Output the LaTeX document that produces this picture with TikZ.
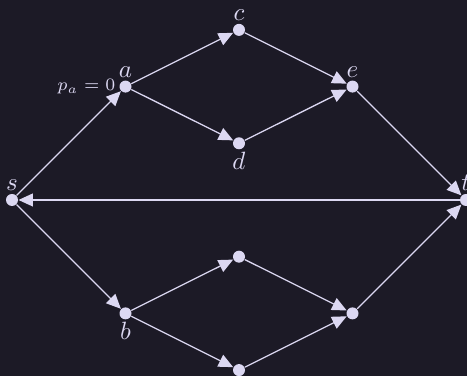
\documentclass[tikz,border=0pt]{standalone}
\usepackage{xcolor}
\usepackage{tikz}
\usetikzlibrary{positioning,arrows.meta}

\definecolor{bgdark}{HTML}{1C1A26}
\definecolor{lavender}{HTML}{DCD8F2}

\begin{document}
\begin{tikzpicture}[x=45.4pt, y=22.68pt]
    % Styles
    \tikzstyle{vertex} = [circle, fill=lavender, inner sep=0pt, minimum size=4.8pt,
                          label distance=1.6pt, font=\fontsize{11}{13}\selectfont]
    \tikzstyle{arrow} = [draw=lavender, line width=0.5pt, -{Triangle[length=5.8pt,width=5.2pt]}]

    % Background and frame
    \fill[bgdark] (-0.1057,-3.104) rectangle (4.0088,3.527);
    \useasboundingbox (-0.1057,-3.104) rectangle (4.0088,3.527);

    \begin{scope}[every label/.style={text=lavender, inner sep=0.8pt}]
    % Nodes, upper half
    \node (s) [vertex, label=above:$s$] at (0,0) {};
    \node (a) [vertex, label=above:$a$,
               label={[font=\fontsize{7.4}{9}\selectfont, label distance=0.5pt]left:$p_a = 0$}] at (1,2) {};
    \node (c) [vertex, label=above:$c$] at (2,3) {};
    \node (d) [vertex, label=below:$d$] at (2,1) {};
    \node (e) [vertex, label=above:$e$] at (3,2) {};
    \node (t) [vertex, label=above:$t$] at (4,0) {};

    % Nodes, lower half
    \node (b) [vertex, label=below:$b$] at (1,-2) {};
    \node (cl) [vertex] at (2,-1) {};
    \node (dl) [vertex] at (2,-3) {};
    \node (el) [vertex] at (3,-2) {};
    \end{scope}

    % Arrows
    \draw [arrow] (s) -- (a);
    \draw [arrow] (a) -- (c);
    \draw [arrow] (a) -- (d);
    \draw [arrow] (c) -- (e);
    \draw [arrow] (d) -- (e);
    \draw [arrow] (e) -- (t);
    \draw [arrow] (t) -- (s);
    \draw [arrow] (s) -- (b);
    \draw [arrow] (b) -- (cl);
    \draw [arrow] (b) -- (dl);
    \draw [arrow] (cl) -- (el);
    \draw [arrow] (dl) -- (el);
    \draw [arrow] (el) -- (t);

\end{tikzpicture}
\end{document}
